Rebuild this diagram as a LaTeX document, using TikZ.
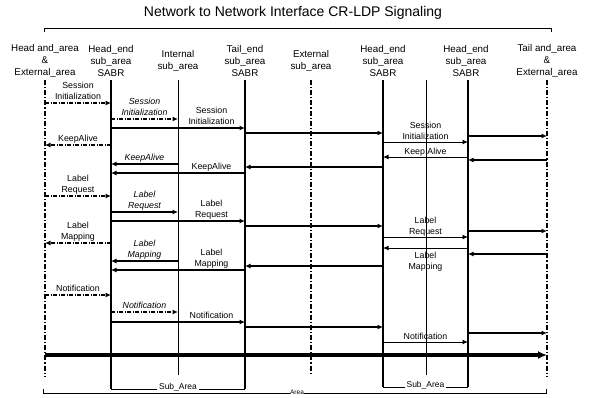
\documentclass[tikz,border=0pt]{standalone}
\usepackage{fontspec}
\setmainfont{Liberation Sans}
\usetikzlibrary{arrows.meta}
\tikzset{
  hdr/.style={anchor=center, align=center, inner sep=0pt, font=\fontsize{9.8}{12}\selectfont},
  lbl/.style={anchor=south, align=center, inner sep=0pt, text depth=0pt, yshift=2.5pt,
              font=\fontsize{8.8}{11}\selectfont},
  ilbl/.style={lbl, font=\fontsize{8.8}{11}\selectfont\itshape},
  lblb/.style={anchor=north, align=center, inner sep=0pt, yshift=-4pt,
               font=\fontsize{8.8}{11}\selectfont},
  life/.style={line width=1.7pt},
  thinlife/.style={line width=1pt},
  extlife/.style={line width=1.3pt, dash pattern=on 5pt off 2pt on 1.2pt off 2pt},
  msg/.style={-{Latex[length=5.5pt,width=5pt]}, line width=1.1pt},
  tmsg/.style={msg, line width=0.9pt},
  dmsg/.style={msg, dash pattern=on 4pt off 1.5pt on 1pt off 1.5pt},
  bigarr/.style={-{Latex[length=9pt,width=8pt]}, line width=3.2pt}}
\begin{document}
\begin{tikzpicture}[x=1pt, y=-1pt]
  \useasboundingbox (0,0) rectangle (589,397);
  \coordinate (t1) at (45,0);
  \coordinate (t2) at (111,0);
  \coordinate (t3) at (178,0);
  \coordinate (t4) at (245,0);
  \coordinate (t5) at (311,0);
  \coordinate (t6) at (383,0);
  \coordinate (t7) at (426,0);
  \coordinate (t8) at (468,0);
  \coordinate (t9) at (547,0);
  % title and headers
  \node[font=\fontsize{14}{16}\selectfont] (title) at (293,13) {Network to Network Interface CR-LDP Signaling};
  \draw[thinlife] (44,32) -- (44,28) -- (551,28) -- (551,32);
  \node[hdr] (h1) at (t1 |- 0,61) {Head and\_area\\\&\\External\_area};
  \node[hdr] (h2) at (t2 |- 0,61) {Head\_end\\sub\_area\\SABR};
  \node[hdr] (h3) at (t3 |- 0,61) {Internal\\sub\_area};
  \node[hdr] (h4) at (t4 |- 0,61) {Tail\_end\\sub\_area\\SABR};
  \node[hdr] (h5) at (t5 |- 0,61) {External\\sub\_area};
  \node[hdr] (h6) at (t6 |- 0,61) {Head\_end\\sub\_area\\SABR};
  \node[hdr] (h7) at (466,61) {Head\_end\\sub\_area\\SABR};
  \node[hdr] (h8) at (t9 |- 0,61) {Tail and\_area\\\&\\External\_area};
  % lifelines
  \draw[extlife] (t1 |- 0,80) -- (t1 |- 0,377);
  \draw[life] (t2 |- 0,80) -- (t2 |- 0,389);
  \draw[thinlife] (t3 |- 0,80) -- (t3 |- 0,375);
  \draw[life] (t4 |- 0,80) -- (t4 |- 0,389);
  \draw[extlife] (t5 |- 0,80) -- (t5 |- 0,375);
  \draw[life] (t6 |- 0,80) -- (t6 |- 0,387);
  \draw[thinlife] (t7 |- 0,80) -- (t7 |- 0,375);
  \draw[life] (t8 |- 0,80) -- (t8 |- 0,387);
  \draw[extlife] (t9 |- 0,80) -- (t9 |- 0,377);
  % Session Initialization
  \draw[dmsg] (t1 |- 0,103) -- (t2 |- 0,103) node[lbl, midway] {Session\\Initialization};
  \draw[dmsg] (t2 |- 0,119) -- (t3 |- 0,119) node[ilbl, midway] {Session\\Initialization};
  \draw[msg] (t2 |- 0,128) -- (t4 |- 0,128) node[lbl, pos=.75] {Session\\Initialization};
  \draw[msg] (t4 |- 0,133) -- (t6 |- 0,133);
  \draw[tmsg] (t6 |- 0,142) -- (t8 |- 0,142) node[lbl, midway] {Session\\Initialization};
  \draw[msg] (t8 |- 0,136) -- (t9 |- 0,136);
  % KeepAlive
  \draw[dmsg] (t2 |- 0,145) -- (t1 |- 0,145) node[lbl, midway] {KeepAlive};
  \draw[msg] (t3 |- 0,164) -- (t2 |- 0,164) node[ilbl, midway] {KeepAlive};
  \draw[msg] (t4 |- 0,173) -- (t2 |- 0,173) node[lbl, pos=.25] {KeepAlive};
  \draw[msg] (t6 |- 0,167) -- (t4 |- 0,167);
  \draw[tmsg] (t8 |- 0,157) -- (t6 |- 0,157) node[lbl, midway] {Keep Alive};
  \draw[msg] (t9 |- 0,160) -- (t8 |- 0,160);
  % Label Request
  \draw[dmsg] (t1 |- 0,196) -- (t2 |- 0,196) node[lbl, midway] {Label\\Request};
  \draw[msg] (t2 |- 0,212) -- (t3 |- 0,212) node[ilbl, midway] {Label\\Request};
  \draw[msg] (t2 |- 0,221) -- (t4 |- 0,221) node[lbl, pos=.75] {Label\\Request};
  \draw[msg] (t4 |- 0,226) -- (t6 |- 0,226);
  \draw[tmsg] (t6 |- 0,237) -- (t8 |- 0,237) node[lbl, midway] {Label\\Request};
  \draw[msg] (t8 |- 0,231) -- (t9 |- 0,231);
  % Label Mapping
  \draw[dmsg] (t2 |- 0,243) -- (t1 |- 0,243) node[lbl, midway] {Label\\Mapping};
  \draw[msg] (t3 |- 0,261) -- (t2 |- 0,261) node[ilbl, midway] {Label\\Mapping};
  \draw[msg] (t4 |- 0,270) -- (t2 |- 0,270) node[lbl, pos=.25] {Label\\Mapping};
  \draw[msg] (t6 |- 0,266) -- (t4 |- 0,266);
  \draw[tmsg] (t8 |- 0,248) -- (t6 |- 0,248) node[lblb, midway] {Label\\Mapping};
  \draw[msg] (t9 |- 0,254) -- (t8 |- 0,254);
  % Notification
  \draw[dmsg] (t1 |- 0,295) -- (t2 |- 0,295) node[lbl, midway] {Notification};
  \draw[dmsg] (t2 |- 0,312) -- (t3 |- 0,312) node[ilbl, midway] {Notification};
  \draw[msg] (t2 |- 0,322) -- (t4 |- 0,322) node[lbl, pos=.75] {Notification};
  \draw[msg] (t4 |- 0,327) -- (t6 |- 0,327);
  \draw[tmsg] (t6 |- 0,342) -- (t8 |- 0,342) node[lbl, midway] {Notification};
  \draw[msg] (t8 |- 0,333) -- (t9 |- 0,333);
  % data path and areas
  \draw[bigarr] (t1 |- 0,355) -- (t9 |- 0,355);
  \draw[thinlife] (t2 |- 0,389) -- (t4 |- 0,389)
    node[midway, fill=white, inner sep=2pt, yshift=2pt, font=\fontsize{8.5}{10}\selectfont] (sub1) {Sub\_Area};
  \draw[thinlife] (t6 |- 0,387) -- (t8 |- 0,387)
    node[midway, fill=white, inner sep=2pt, yshift=2pt, font=\fontsize{8.5}{10}\selectfont] (sub2) {Sub\_Area};
  \draw[thinlife] (43,389) -- (43,393) -- (546,393) -- (546,389);
  \node[fill=white, inner sep=0.5pt, font=\fontsize{6.5}{7}\selectfont] (area) at (297,392.5) {Area};
\end{tikzpicture}
\end{document}
